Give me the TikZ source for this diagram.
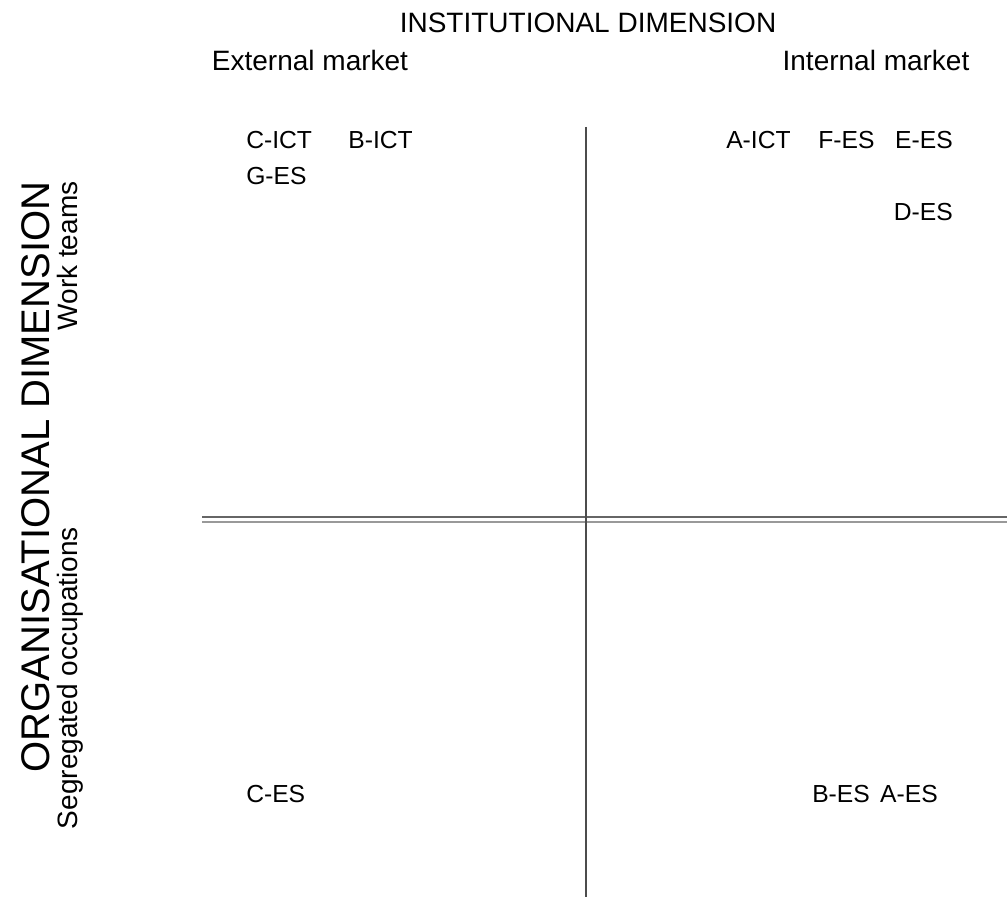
\documentclass[tikz,border=0pt]{standalone}
\usepackage{fontspec}
\setmainfont{Liberation Sans}
\begin{document}
\begin{tikzpicture}[x=0.75pt,y=-0.75pt,
	lbl/.style={inner sep=0pt,font=\fontsize{21}{24}\selectfont},
	side/.style={lbl,rotate=90,anchor=base},
	case/.style={inner sep=0pt,font=\fontsize{18.5}{22}\selectfont,anchor=west},
	axis/.style={line width=1.1pt,draw=black!70}]
	\useasboundingbox (0,0) rectangle (1007,898);
	
	\node[lbl] (inst) at (588,23) {INSTITUTIONAL DIMENSION};
	\node[lbl] (ext) at (310,60) {External market};
	\node[lbl] (int) at (876,60) {Internal market};
	
	\node[side,font=\fontsize{30}{33}\selectfont] (org) at (49,477) {ORGANISATIONAL DIMENSION};
	\node[side] (work) at (77,256) {Work teams};
	\node[side] (segr) at (77,678) {Segregated occupations};
	
	\coordinate (hl) at (202,517); \coordinate (hr) at (1007,517);
	\draw [line width=1pt,black!60] (hl) -- (hr);
	\draw [line width=1pt,black!40] ([yshift=-5*0.75pt]hl) -- ([yshift=-5*0.75pt]hr);
	\coordinate (vtop) at (586,127); \coordinate (vbot) at (586,897);
	\draw [axis] (vtop) -- (vbot);
	
	\node[case] (cict) at (246,140) {C-ICT}; \node[case,anchor=east] (bict) at (413,140) {B-ICT};
	\node[case] (ges) at (246,176) {G-ES};
	
	\node[case] (aict) at (726,140) {A-ICT}; \node[case] (fes) at (818,140) {F-ES};
	\node[case,anchor=east] (ees) at (953,140) {E-ES};
	\node[case,anchor=east] (des) at (953,212) {D-ES};
	
	\node[case] (ces) at (246,794) {C-ES};
	\node[case] (bes) at (812,794) {B-ES}; \node[case,anchor=east] (aes) at (938,794) {A-ES};
\end{tikzpicture}
\end{document}
